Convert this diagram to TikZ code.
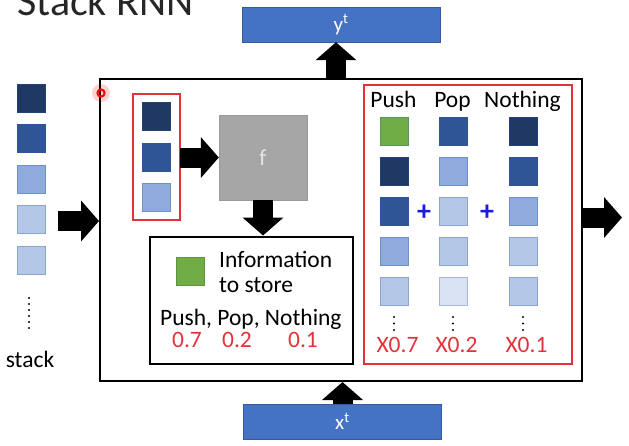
\documentclass[tikz,border=0pt]{standalone}
\usepackage{fontspec}
\setmainfont{Carlito}
\usetikzlibrary{arrows.meta, positioning}

\definecolor{navy}{HTML}{203864}
\definecolor{mid}{HTML}{2F5597}
\definecolor{light}{HTML}{8FAADC}
\definecolor{lighter}{HTML}{B4C7E7}
\definecolor{lightest}{HTML}{DAE3F3}
\definecolor{leaf}{HTML}{70AD47}
\definecolor{bar}{HTML}{4472C4}
\definecolor{redline}{HTML}{E5323A}
\definecolor{plusblue}{HTML}{1A1AE6}

\begin{document}
\begin{tikzpicture}[x=1pt, y=-1pt,
  cell/.style={draw=#1!70!mid, fill=#1, line width=0.6pt, minimum size=28pt, inner sep=0pt},
  blockarrow/.style={line width=20pt, -{Triangle[length=18pt, width=40pt]}},
  bluebar/.style={fill=bar, draw=bar!80!black, line width=0.4pt, text=white, minimum width=198pt, minimum height=35pt, inner sep=0pt},
  frame/.style={draw=redline, line width=1.8pt},
  lbl/.style={font=\fontsize{23.5}{27}\selectfont, inner sep=0pt},
  red num/.style={lbl, text=redline, anchor=base},
  plus/.style={text=plusblue, font=\bfseries\fontsize{28}{28}\selectfont, inner sep=0pt}]
  \useasboundingbox (0,0) rectangle (629,445);
  % titulo (cortado arriba)
  \node[anchor=base west, inner sep=0pt, font=\fontsize{42}{42}\selectfont, text=black!85] (title) at (17,15) {Stack RNN};
  % caja principal
  \node[draw, line width=2pt, minimum width=482pt, minimum height=302pt, inner sep=0pt] (main) at (341,230) {};
  \node[bluebar] (yt) at (341,24.5) {\fontsize{21}{21}\selectfont y$^{\mathrm{t}}$};
  \node[bluebar] (xt) at (342.5,421.5) {\fontsize{21}{21}\selectfont x$^{\mathrm{t}}$};
  % pila de la izquierda
  \foreach \col [count=\i] in {navy,mid,light,lighter,lighter}{
    \node[cell=\col] (s\i) at (31,{98+40.5*(\i-1)}) {};}
  \foreach \k in {0,...,5}{\fill (29,{298+6*\k}) circle (1.1pt);}
  \node[lbl, anchor=base] (stacklbl) at (30,367) {stack};
  % tope de la pila y f
  \foreach \col [count=\i] in {navy,mid,light}{
    \node[cell=\col] (t\i) at (156.5,{116.5+40.5*(\i-1)}) {};}
  \draw[frame] (133,94) rectangle (180,220);
  \coordinate (redL) at (180,157.5);
  \node[fill=black!35, draw=black!40, minimum width=88pt, minimum height=85pt, text=white!90!black, font=\fontsize{23}{23}\selectfont] (f) at (263,157.5) {f};
  % salida de f
  \node[draw, line width=2pt, minimum width=203pt, minimum height=127pt] (info) at (251,300) {};
  \node[cell=leaf, draw=leaf!85!black] (g) at (190.5,271) {};
  \node[lbl, anchor=base west] (inf1) at (219,267) {Information};
  \node[lbl, anchor=base west] (inf2) at (219,292) {to store};
  \node[lbl, anchor=base west] (ops) at (160,325) {Push, Pop, Nothing};
  \node[red num] (p1) at (187,347) {0.7};
  \node[red num] (p2) at (237,347) {0.2};
  \node[red num] (p3) at (303,347) {0.1};
  % tres pilas candidatas
  \draw[frame] (364,85) rectangle (572,364);
  \foreach \c/\x/\h/\w/\cols in {push/394.5/Push/X0.7/{leaf,navy,mid,light,lighter},
                              pop/453.5/Pop/X0.2/{mid,light,lighter,lighter,lightest},
                              none/523.5/Nothing/X0.1/{navy,mid,light,lighter,lighter}}{
    \node[lbl, anchor=base] (\c h) at (\x-1,107) {\h};
    \foreach \col [count=\i] in \cols{
      \node[cell=\col] (\c\i) at (\x,{131.5+40*(\i-1)}) {};}
    \foreach \k in {0,1,2}{\fill (\x-0.5,{317+6.5*\k}) circle (1.1pt);}
    \node[red num] (\c w) at (\x+3,352) {\w};
  }
  \node[plus] (plus1) at (424,213) {+};
  \node[plus] (plus2) at (487,213) {+};
  % flechas
  \coordinate (inL) at (58,221);
  \coordinate (outR) at (622,217.5);
  \draw[blockarrow] (inL) -- (main.west |- inL);
  \draw[blockarrow] (main.east |- outR) -- (outR);
  \draw[blockarrow] (redL) -- (f.west);
  \draw[blockarrow] (f.south) -- (f.south |- info.north);
  \draw[blockarrow] ([xshift=-5pt]main.north) -- ([xshift=-5pt]main.north |- yt.south);
  \draw[blockarrow] (xt.north) -- (xt.north |- main.south);
  % puntero
  \fill[red, opacity=0.18] (101,93) circle (9pt);
  \draw[red, line width=2pt] (101,93) circle (3.6pt);
\end{tikzpicture}
\end{document}
